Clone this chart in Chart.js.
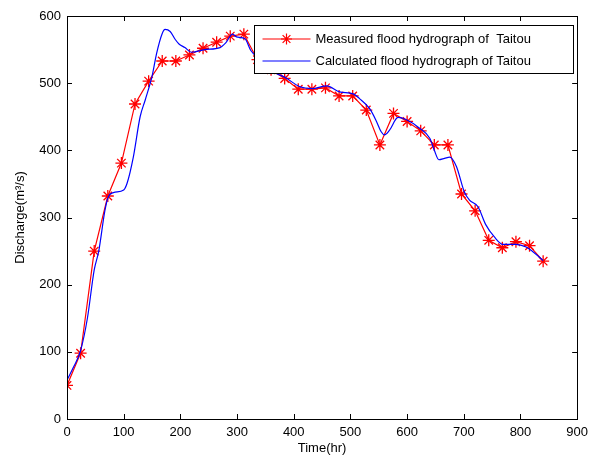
<!DOCTYPE html>
<html>
<head>
<meta charset="utf-8">
<script src="https://cdn.jsdelivr.net/npm/chart.js@4.4.1/dist/chart.umd.min.js"></script>
<style>
  body { margin: 0; background: #fff; }
  canvas { display: block; }
</style>
</head>
<body>
<canvas id="grafico" width="594" height="460"></canvas>
<script>
// datos
const measuredTime = [0, 24, 48, 72, 96, 120, 144, 168, 192, 216, 240, 264, 288, 312, 336, 360, 384, 408,
  432, 456, 480, 504, 528, 552, 576, 600, 624, 648, 672, 696, 720, 744, 768, 792, 816, 840];
const measuredFlow = [50, 98, 250, 332, 381, 469, 503, 533, 533, 542, 552, 561, 570, 573, 535, 520, 507, 491,
  491, 493, 481, 481, 460, 408, 455, 443, 429, 408, 408, 335, 310, 266, 255, 264, 258, 235];

const calcTime = [0, 12, 24, 36, 48, 56, 67, 73, 82, 100, 106, 117, 129, 138, 150, 158, 168, 173, 182, 191,
  198, 208, 220, 243, 270, 280, 292, 299, 314, 324, 340, 355, 370, 384, 410, 434, 458, 481, 505, 516,
  534, 546, 554, 560, 569, 584, 598, 622, 640, 648, 656, 666, 675, 687, 701, 710, 725, 739, 754, 769,
  792, 810, 822, 840];
const calcFlow = [58, 78, 102, 150, 222, 250, 311, 331, 337, 341, 351, 390, 450, 475, 510, 544, 574, 580, 577, 565,
  558, 553, 546, 550, 553, 560, 573, 569, 566, 549, 535, 522, 514, 509, 495, 492, 496, 487, 484, 477,
  462, 443, 428, 423, 430, 449, 446, 433, 418, 400, 386, 388, 390, 376, 338, 326, 316, 289, 271, 260,
  260, 256, 249, 236];

const xTicks = [0, 100, 200, 300, 400, 500, 600, 700, 800, 900];
const yTicks = [0, 100, 200, 300, 400, 500, 600];

const legendLabels = ['Measured flood hydrograph of  Taitou', 'Calculated flood hydrograph of Taitou'];

const fuente = '"Liberation Sans", Arial, sans-serif';

// marco + ticks hacia adentro + leyenda dentro del area
const marcoPlugin = {
  id: 'marco',
  afterDraw(chart) {
    const ctx = chart.ctx;
    const a = chart.chartArea;
    const xs = chart.scales.x, ys = chart.scales.y;
    ctx.save();
    ctx.strokeStyle = '#000';
    ctx.lineWidth = 1;
    ctx.beginPath();
    xTicks.forEach(v => {
      const px = Math.round(xs.getPixelForValue(v)) + 0.5;
      ctx.moveTo(px, a.bottom); ctx.lineTo(px, a.bottom - 5);
      ctx.moveTo(px, a.top); ctx.lineTo(px, a.top + 5);
    });
    yTicks.forEach(v => {
      const py = Math.round(ys.getPixelForValue(v)) + 0.5;
      ctx.moveTo(a.left, py); ctx.lineTo(a.left + 5, py);
      ctx.moveTo(a.right, py); ctx.lineTo(a.right - 5, py);
    });
    ctx.stroke();
    ctx.strokeRect(Math.round(a.left) + 0.5, Math.round(a.top) + 0.5,
      Math.round(a.right - a.left), Math.round(a.bottom - a.top));

    // leyenda
    const bx = 254.5, by = 25.5, bw = 319, bh = 48;
    ctx.fillStyle = '#fff';
    ctx.fillRect(bx, by, bw, bh);
    ctx.strokeRect(bx, by, bw, bh);
    ctx.font = '13px ' + fuente;
    ctx.textBaseline = 'middle';
    ctx.fillStyle = '#000';
    const filas = [by + 13, by + 35];
    const colores = ['#ff0000', '#0000ff'];
    filas.forEach((fy, i) => {
      ctx.strokeStyle = colores[i];
      ctx.lineWidth = 1.2;
      ctx.beginPath();
      ctx.moveTo(bx + 8, Math.round(fy));
      ctx.lineTo(bx + 56, Math.round(fy));
      ctx.stroke();
      ctx.fillText(legendLabels[i], bx + 61, fy + 1);
    });
    // estrella de la leyenda
    const cx = bx + 32, cy = Math.round(filas[0]), r = 5.5;
    ctx.strokeStyle = '#ff0000';
    ctx.beginPath();
    ctx.moveTo(cx - r, cy); ctx.lineTo(cx + r, cy);
    ctx.moveTo(cx, cy - r); ctx.lineTo(cx, cy + r);
    const d = r * 0.707;
    ctx.moveTo(cx - d, cy - d); ctx.lineTo(cx + d, cy + d);
    ctx.moveTo(cx - d, cy + d); ctx.lineTo(cx + d, cy - d);
    ctx.stroke();
    ctx.restore();
  }
};

const ctx = document.getElementById('grafico').getContext('2d');
new Chart(ctx, {
  type: 'line',
  data: {
    datasets: [{
      label: legendLabels[0],
      data: measuredTime.map((t, i) => ({ x: t, y: measuredFlow[i] })),
      borderColor: '#ff0000',
      backgroundColor: '#ff0000',
      borderWidth: 1.2,
      pointStyle: 'star',
      pointRadius: 6,
      pointBorderWidth: 1.3,
      pointBorderColor: '#ff0000',
      tension: 0,
      fill: false,
      order: 2
    }, {
      label: legendLabels[1],
      data: calcTime.map((t, i) => ({ x: t, y: calcFlow[i] })),
      borderColor: '#0000ff',
      borderWidth: 1.2,
      pointRadius: 0,
      cubicInterpolationMode: 'monotone',
      fill: false,
      order: 1
    }]
  },
  options: {
    responsive: false,
    animation: false,
    layout: { padding: { left: 0, right: 16, top: 16, bottom: 0 } },
    plugins: {
      legend: { display: false },
      tooltip: { enabled: false }
    },
    scales: {
      x: {
        type: 'linear',
        min: 0, max: 900,
        afterBuildTicks: s => { s.ticks = xTicks.map(v => ({ value: v })); },
        afterFit: s => { s.height = 41; },
        grid: { display: false, drawTicks: false },
        border: { display: false },
        ticks: { color: '#000', font: { family: fuente, size: 13 }, padding: 6, maxRotation: 0 },
        title: { display: true, text: 'Time(hr)', color: '#000', font: { family: fuente, size: 13 }, padding: { top: 0, bottom: 4 } }
      },
      y: {
        type: 'linear',
        min: 0, max: 600,
        afterBuildTicks: s => { s.ticks = yTicks.map(v => ({ value: v })); },
        afterFit: s => { s.width = 67; },
        grid: { display: false, drawTicks: false },
        border: { display: false },
        ticks: { color: '#000', font: { family: fuente, size: 13 }, padding: 6 },
        title: { display: true, text: 'Discharge(m³/s)', color: '#000', font: { family: fuente, size: 13 }, padding: { top: 13, bottom: 0 } }
      }
    }
  },
  plugins: [marcoPlugin]
});
</script>
</body>
</html>
